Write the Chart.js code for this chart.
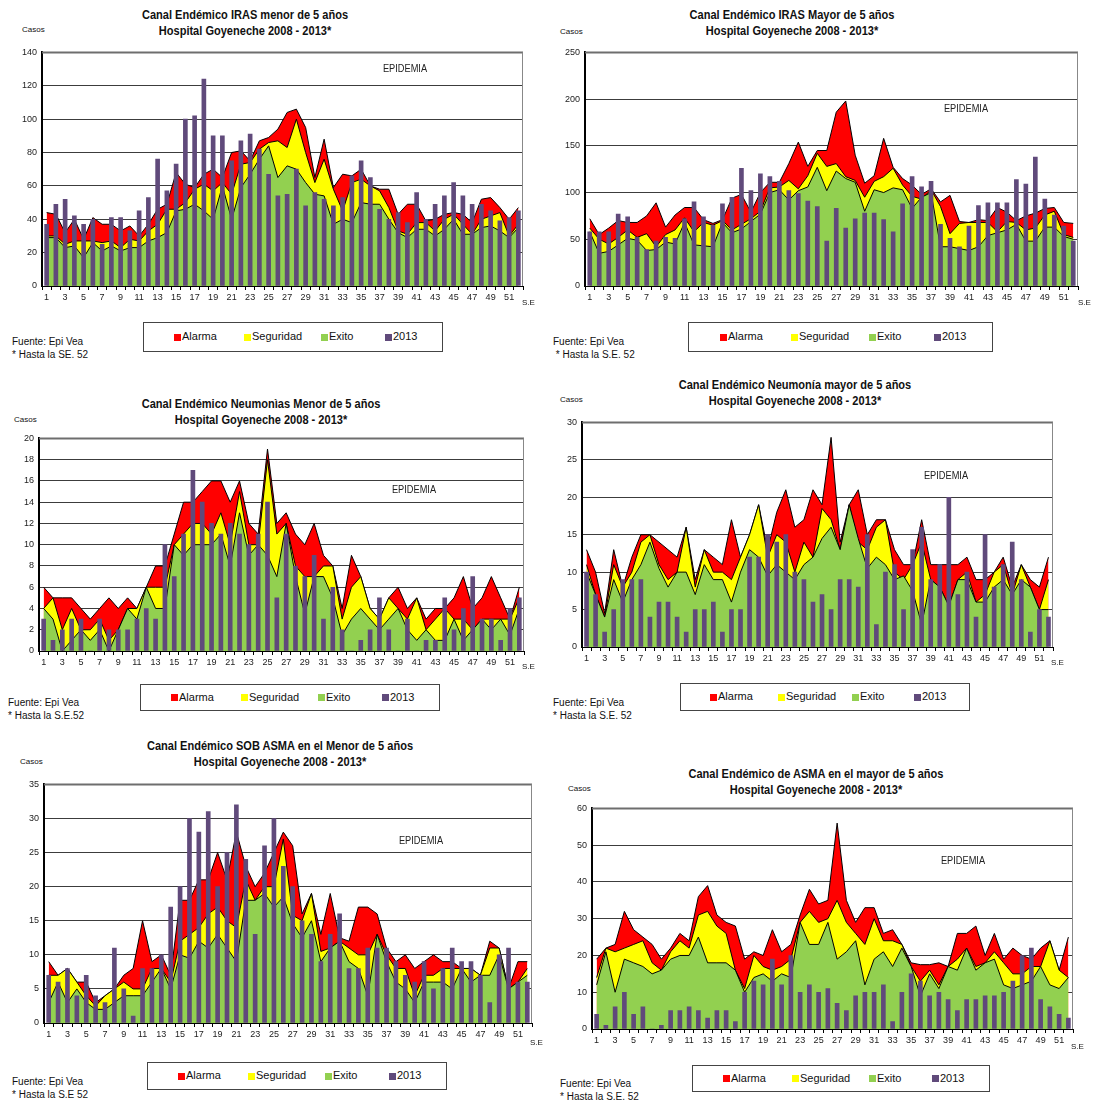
<!DOCTYPE html>
<html>
<head>
<meta charset="utf-8">
<script src="https://cdn.jsdelivr.net/npm/chart.js@4.4.0/dist/chart.umd.min.js"></script>
<style>
  body { margin:0; background:#fff; width:1099px; height:1114px; position:relative; overflow:hidden;
         font-family:"Liberation Sans", Arial, sans-serif; color:#111; }
  .t { position:absolute; white-space:nowrap; }
  .titulo { font-family:"Liberation Sans", Arial, sans-serif; font-weight:bold;
            font-size:12px; line-height:16px; text-align:center; transform:translateX(-50%) scaleX(0.92); }
  .epi { font-family:"Liberation Sans", Arial, sans-serif; font-size:11px;
         transform:translateX(-50%) scaleX(0.84); color:#222; }
  .chico { font-size:8px; }
  .nota { font-size:10px; line-height:13px; }
  .leyenda { position:absolute; border:1px solid #444; box-sizing:border-box; font-size:11px; }
  .leyenda span.c { position:absolute; width:7px; height:7px; }
  .leyenda span.l { position:absolute; }
</style>
</head>
<body>
<script>
Chart.defaults.font.family = "'Liberation Sans', Arial, sans-serif";

// semanas epidemiologicas
const semanas = ['1','2','3','4','5','6','7','8','9','10','11','12','13','14','15','16','17','18','19','20','21','22','23','24','25','26',
  '27','28','29','30','31','32','33','34','35','36','37','38','39','40','41','42','43','44','45','46','47','48','49','50','51','52'];

// IRAS menor de 5 años
const irasMenorExito = [29,29,23,24,17,26,21,24,21,23,23,27,29,32,45,46,49,45,40,60,40,59,67,76,84,65,72,70,62,55,54,37,40,38,50,49,49,40,32,29,34,34,30,34,40,31,31,35,36,33,29,35];
const irasMenorSeguridad = [30,30,25,27,27,27,26,27,23,28,27,33,37,46,46,50,58,61,57,62,55,73,74,82,86,87,83,100,80,62,76,58,45,62,64,60,57,47,33,31,38,38,33,40,43,37,31,40,42,44,30,37];
const irasMenorAlarma = [44,43,32,40,28,41,37,37,33,36,30,37,46,49,68,61,59,67,70,65,80,81,75,87,89,94,104,106,95,65,88,59,67,66,70,60,58,58,43,49,49,39,40,43,44,43,38,52,53,47,40,47];
const irasMenor2013 = [37,49,52,42,37,40,25,41,41,33,45,53,76,57,73,100,102,124,90,90,75,87,91,82,67,54,55,70,48,56,52,48,53,66,75,65,46,40,44,38,56,40,49,54,62,54,49,49,45,39,41,45];

// IRAS mayor de 5 años
const irasMayorExito = [58,35,37,44,51,49,38,39,47,45,68,44,43,42,68,57,61,69,77,100,103,92,102,106,127,102,123,115,111,80,103,100,105,103,83,95,100,42,42,40,38,42,54,57,60,66,48,48,63,63,53,50];
const irasMayorSeguridad = [62,50,45,52,60,52,56,42,55,60,73,58,68,65,70,60,66,72,80,105,106,113,104,118,142,128,131,117,113,95,112,117,126,108,96,93,103,85,56,67,68,68,68,58,69,68,60,62,76,80,55,52];
const irasMayorAlarma = [72,55,62,70,68,68,75,89,63,76,84,84,71,67,71,94,98,79,100,111,111,131,154,128,145,145,186,198,140,110,118,158,127,115,108,98,104,90,97,69,68,71,70,84,79,70,75,78,83,84,68,67];
const irasMayor2013 = [58,58,58,77,74,52,39,48,52,51,72,90,74,65,88,95,126,102,120,117,112,102,99,91,85,48,83,62,72,78,78,71,58,88,117,106,112,66,51,42,64,86,89,89,89,114,109,138,93,76,64,48];

// Neumonias menor de 5 años
const neuMenorExito = [4,3,0,1,2,1,2,0,2,4,3,6,4,4,10,9,10,10,10,11,8,13,9,10,9,7,12,7,3.5,7,7,5,1.5,3,4,3,2,3,4,2,1,2,1,1,3,1,2,3,2,3,1.5,4];
const neuMenorSeguridad = [4,5,2,4,2,2,3,1,2,4,4,6,6,6,10,11,12,12,11,13,10,15,10,10,18,11,12,8,7,7,8,8,3,6,7,4,3,5,4,3,5,2,3,4,3,3,2,3,3,3,3,5];
const neuMenorAlarma = [6,5,5,5,4,3,4,5,4,5,4,6,8,8,11,14,14,15,16,16,14,16,12,11,19,12,13,11,10,12,9,8,4,9,7,4,3,5,6,4,5,3,4,4,5,7,4,5,7,5,3,6];
const neuMenor2013 = [3,1,2,3,3,0,3,2,2,2,3,4,3,10,7,11,17,14,12,11,12,11,10,11,14,5,11,8,7,9,3,6,2,0,1,2,5,2,0,3,0,1,1,5,2,4,7,3,3,1,4,5];

// Neumonia mayor de 5 años
const neuMayorExito = [10,7,4,9,6,9,11,14,10.5,8,10,10,7,11,9,9,6,10,13,12,9.5,11,10,9,11,12,14.5,16,13,19,14.5,10.5,12,11,9,9.5,7.5,3,9,8,5.5,9,9,6,6,8,9,7,9,8,5,5];
const neuMayorSeguridad = [11,7,4,11,8,10,14,15,11,9,10,16,8,13,10,10,9,12,15,19,12,15,14,10,14,12,18.5,17,13,19,14,13,16,17,10,9,11,14,9,8,5.5,9,10,6,7,10,11,7,11,8,5,9];
const neuMayorAlarma = [13,10,4.5,13,8,12,15,15,14,13,12,16,9,13,12,11,17,12,15,19,13,18,21,16,17,21,19,28,14,19,21,15,17,17,13,11,11,17,11,11,11,11,12,9,9,10,12,8,11,9,8,12];
const neuMayor2013 = [10,7,2,5,9,9,9,4,6,6,4,2,5,5,6,2,5,5,12,12,15,14,15,10,9,6,7,5,9,9,8,15,3,10,11,5,13,16,9,11,20,7,10,4,15,8,11,14,9,2,5,4];

// SOB ASMA menor de 5 años
const sobMenorExito = [3,6,3,5,3,2,2,3,4,4,4,6,8,5,10,9.5,12,11,13,11,9,18,18,19,17,18.5,14.6,12.5,15,9,11,12,9,8,4,13,9,6,5,3,6,6,6,5,8,6,7,7,10,5,6,7];
const sobMenorSeguridad = [7,7,8,6,4,2.5,4,5,6,5,5,8,8,6,12,13,14,16,17,15,14,21,18,20,20,27,15.8,15,19,10.5,11,12,11,10,10,13,10,8,8,4,7,7,8,8,8,8,7,11,11,5,6,8];
const sobMenorAlarma = [9,7,8,6,6,3,4,5,7,8,15,9,10,7,18,18,21,21,25,21,28,23,20,22,25,28,26,16,19,13,19,12.5,12,17,17,16,11,9,10,8,9,10,9,9,8,8,7,12,11,5,9,9];
const sobMenor2013 = [7,6,8,4,7,4,3,11,5,1,8,8,10,17,20,30,28,31,20,25,32,24,13,26,30,23,20,15,13,9,13,16,8,8,11,11,11,9,7,6,9,5,8,11,9,9,7,3,10,11,6,6];

// ASMA mayor de 5 años
const asmaMayorExito = [12,21,10,19,18,17,15,16,19,20,20,25,18,18,18,16,10,14,15,13,15,14,29,23,23,29,19,21,24,12,19,21,17,22,17,9,15,11,17,16,22,16,18,19,12,11,12,13,17,12,11,14];
const asmaMayorSeguridad = [14,22,21,22,23,24,18,16,21,24,22,31,32,28,26,16,11,20,17,16,17,19,29,32,29,30,35,29,26,23,30,24,24,23,17,13,16,12,17,19,22,17,18,21,18,15,15,17,17,24,16,14];
const asmaMayorAlarma = [19,22,23,32,27,25,23,19,22,26,24,36,39,31,29,28,19,21,20,27,21,23,31,38,34,35,56,35,29,33,33,26,27,23,18,17.5,17.5,18,17,26,26,28,20,26,19,22,20,19,22,24,16,25];
const asmaMayor2013 = [4,1,6,10,4,6,0,1,5,5,6,5,3,5,5,2,10,13,12,19,12,20,10,12,10,11,7,5,9,10,10,12,2,10,15,13,9,10,8,5,8,8,9,9,10,13,20,22,8,6,4,3];

const rojo = '#FF0000', amarillo = '#FFFF00', verde = '#92D050', morado = '#604A7B';

// borde derecho y superior del area de trazado
const marco = {
  id: 'marco',
  afterDraw(chart) {
    const a = chart.chartArea, ctx = chart.ctx;
    ctx.save();
    ctx.strokeStyle = '#6e6e6e';
    ctx.lineWidth = 2;
    ctx.beginPath(); ctx.moveTo(a.left, a.top); ctx.lineTo(a.right, a.top); ctx.stroke();
    ctx.lineWidth = 1;
    ctx.strokeStyle = '#888';
    ctx.beginPath(); ctx.moveTo(a.right - 0.5, a.top); ctx.lineTo(a.right - 0.5, a.bottom); ctx.stroke();
    ctx.restore();
  }
};

function txt(x, y, s, cls, css) {
  const d = document.createElement('div');
  d.className = 't ' + (cls || '');
  d.style.left = x + 'px';
  d.style.top = y + 'px';
  if (css) d.style.cssText += css;
  d.innerHTML = s;
  document.body.appendChild(d);
  return d;
}

function leyenda(x, y, w, h) {
  const box = document.createElement('div');
  box.className = 'leyenda';
  box.style.cssText = `left:${x}px;top:${y}px;width:${w}px;height:${h}px;`;
  const items = [['Alarma', rojo, 0.1], ['Seguridad', amarillo, 0.333], ['Exito', verde, 0.59], ['2013', morado, 0.803]];
  items.forEach(([nom, col, f]) => {
    const c = document.createElement('span');
    c.className = 'c';
    c.style.cssText = `left:${Math.round(f * w)}px;top:${Math.round(h / 2 - 4.5)}px;background:${col};`;
    const l = document.createElement('span');
    l.className = 'l';
    l.style.cssText = `left:${Math.round(f * w) + 8}px;top:${Math.round(h / 2 - 8)}px;`;
    l.textContent = nom;
    box.append(c, l);
  });
  document.body.appendChild(box);
}

function panel(p) {
  const c = document.createElement('canvas');
  c.width = p.w + 40 + 14;
  c.height = p.h + 10 + 24;
  c.style.cssText = `position:absolute;left:${p.x - 40}px;top:${p.y - 10}px;`;
  document.body.appendChild(c);
  const area = (label, data, color, order) => ({
    type: 'line', label, data, backgroundColor: color, borderColor: '#000', borderWidth: 1,
    fill: 'origin', tension: 0, pointRadius: 0, order
  });
  new Chart(c, {
    data: {
      labels: semanas,
      datasets: [
        { type: 'bar', label: '2013', data: p.casos, backgroundColor: morado, barThickness: 4, order: 0 },
        area('Exito', p.exito, verde, 1),
        area('Seguridad', p.seguridad, amarillo, 2),
        area('Alarma', p.alarma, rojo, 3)
      ]
    },
    options: {
      responsive: false,
      animation: false,
      layout: { padding: { top: 10, right: 14, left: 0, bottom: 0 } },
      plugins: { legend: { display: false }, tooltip: { enabled: false } },
      scales: {
        x: {
          offset: true,
          grid: { display: true, drawOnChartArea: false, offset: true, tickLength: 4, color: '#000' },
          border: { color: '#000', width: 1 },
          ticks: { autoSkip: false, maxRotation: 0, padding: 2, color: '#222', font: { size: 9 },
                   callback: (v, i) => i % 2 === 0 ? semanas[i] : '' },
          afterFit: s => { s.height = 24; }
        },
        y: {
          min: 0, max: p.max,
          ticks: { stepSize: p.paso, padding: 5, color: '#222', font: { size: 9 } },
          grid: { color: '#3c3c3c', drawTicks: false },
          border: { color: '#000', width: 2 },
          afterFit: s => { s.width = 40; }
        }
      }
    },
    plugins: [marco]
  });
}

// paneles
panel({ x: 42, y: 52, w: 481, h: 234, max: 140, paso: 20,
  exito: irasMenorExito, seguridad: irasMenorSeguridad, alarma: irasMenorAlarma, casos: irasMenor2013 });
panel({ x: 585, y: 52, w: 493, h: 234, max: 250, paso: 50,
  exito: irasMayorExito, seguridad: irasMayorSeguridad, alarma: irasMayorAlarma, casos: irasMayor2013 });
panel({ x: 39, y: 438, w: 485, h: 213, max: 20, paso: 2,
  exito: neuMenorExito, seguridad: neuMenorSeguridad, alarma: neuMenorAlarma, casos: neuMenor2013 });
panel({ x: 582, y: 422, w: 471, h: 225, max: 30, paso: 5,
  exito: neuMayorExito, seguridad: neuMayorSeguridad, alarma: neuMayorAlarma, casos: neuMayor2013 });
panel({ x: 44, y: 784, w: 488, h: 239, max: 35, paso: 5,
  exito: sobMenorExito, seguridad: sobMenorSeguridad, alarma: sobMenorAlarma, casos: sobMenor2013 });
panel({ x: 592, y: 808, w: 481, h: 221, max: 60, paso: 10,
  exito: asmaMayorExito, seguridad: asmaMayorSeguridad, alarma: asmaMayorAlarma, casos: asmaMayor2013 });

// titulos
txt(245, 7, 'Canal Endémico IRAS menor de 5 años<br>Hospital Goyeneche 2008 - 2013*', 'titulo');
txt(792, 7, 'Canal Endémico IRAS Mayor de 5 años<br>Hospital Goyeneche 2008 - 2013*', 'titulo');
txt(261, 396, 'Canal Endémico Neumonìas Menor de 5 años<br>Hospital Goyeneche 2008 - 2013*', 'titulo');
txt(795, 377, 'Canal Endémico Neumonía mayor de 5 años<br>Hospital Goyeneche 2008 - 2013*', 'titulo');
txt(280, 738, 'Canal Endémico SOB ASMA en el Menor de 5 años<br>Hospital Goyeneche 2008 - 2013*', 'titulo');
txt(816, 766, 'Canal Endémico de ASMA en el mayor de 5 años<br>Hospital Goyeneche 2008 - 2013*', 'titulo');

// eje Casos
txt(22, 25, 'Casos', 'chico'); txt(560, 27, 'Casos', 'chico');
txt(14, 415, 'Casos', 'chico'); txt(560, 395, 'Casos', 'chico');
txt(20, 757, 'Casos', 'chico'); txt(568, 784, 'Casos', 'chico');

// S.E
txt(522, 298, 'S.E', 'chico'); txt(1078, 298, 'S.E', 'chico');
txt(522, 662, 'S.E', 'chico'); txt(1051, 658, 'S.E', 'chico');
txt(530, 1038, 'S.E', 'chico'); txt(1071, 1042, 'S.E', 'chico');

// EPIDEMIA
txt(405, 62, 'EPIDEMIA', 'epi'); txt(966, 102, 'EPIDEMIA', 'epi');
txt(414, 483, 'EPIDEMIA', 'epi'); txt(946, 469, 'EPIDEMIA', 'epi');
txt(421, 834, 'EPIDEMIA', 'epi'); txt(963, 854, 'EPIDEMIA', 'epi');

// fuente
txt(12, 335, 'Fuente: Epi Vea<br>* Hasta la SE. 52', 'nota');
txt(553, 335, 'Fuente: Epi Vea<br>&nbsp;* Hasta la S.E. 52', 'nota');
txt(8, 696, 'Fuente: Epi Vea<br>* Hasta la S.E.52', 'nota');
txt(553, 696, 'Fuente: Epi Vea<br>* Hasta la S.E. 52', 'nota');
txt(12, 1075, 'Fuente: Epi Vea<br>* Hasta la S.E 52', 'nota');
txt(560, 1077, 'Fuente: Epi Vea<br>* Hasta la S.E. 52', 'nota');

// leyendas
leyenda(143, 322, 300, 30);
leyenda(688, 322, 305, 30);
leyenda(140, 684, 300, 27);
leyenda(680, 683, 290, 28);
leyenda(147, 1062, 300, 28);
leyenda(692, 1065, 298, 27);
</script>
</body>
</html>
